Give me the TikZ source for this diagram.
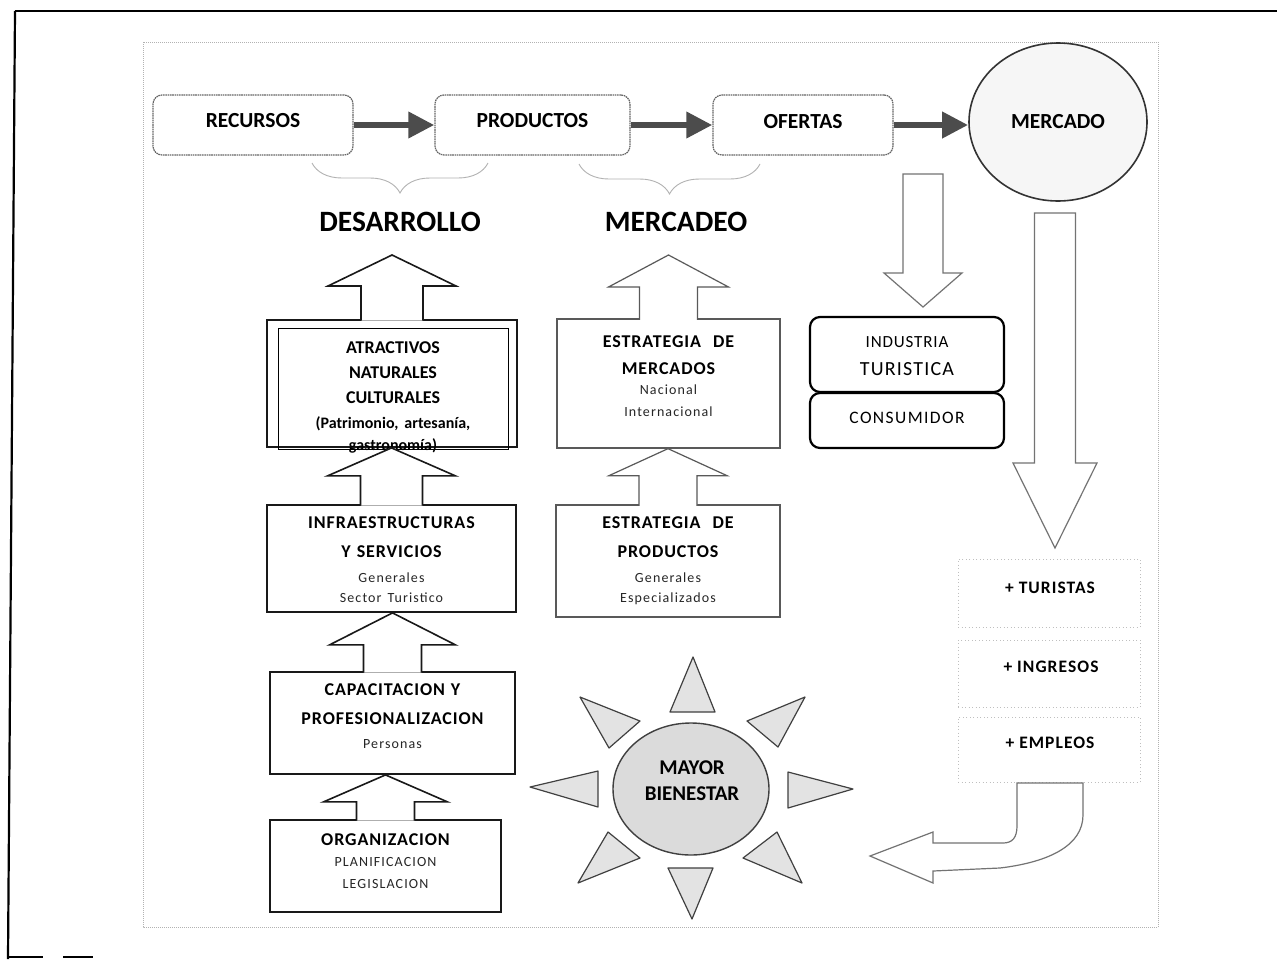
\documentclass[tikz,border=0pt]{standalone}
\usepackage{fontspec}
\setmainfont{Carlito}
\usetikzlibrary{arrows.meta,calc,decorations.pathreplacing,shapes.geometric}
\newcommand\fsz[2]{\fontsize{#1}{#2}\selectfont}
\newcommand\smalltxt{\fsz{14}{20}\mdseries\addfontfeature{LetterSpace=8}\color{black!85}}
% up block arrow: style, from node, tip coordinate, head height, head half width, shaft half width
\newcommand\blockup[6]{%
  \path[#1] let \p1=(#2.north), \p2=(#3) in
    (\x1-#6,\y1-1.5) -- (\x1-#6,\y2-#4) -- (\x1-#5,\y2-#4) -- (\x1,\y2)
    -- (\x1+#5,\y2-#4) -- (\x1+#6,\y2-#4) -- (\x1+#6,\y1-1.5);}
% down block arrow: style, top coordinate, tip coordinate, head height, head half width, shaft half width
\newcommand\blockdown[6]{%
  \path[#1] let \p1=(#2), \p2=(#3) in
    (\x2-#6,\y1) -- (\x2-#6,\y2+#4) -- (\x2-#5,\y2+#4) -- (\x2,\y2)
    -- (\x2+#5,\y2+#4) -- (\x2+#6,\y2+#4) -- (\x2+#6,\y1) -- cycle;}
\begin{document}
\begin{tikzpicture}[x=1pt,y=-1pt,
  topbox/.style={draw=black!60, line width=1.2pt, dash pattern=on 1.6pt off 0.7pt, rounded corners=9pt, minimum height=60pt, inner sep=0pt},
  toptxt/.style={inner sep=0pt, font=\fsz{21.5}{26}\bfseries},
  colbox/.style={draw=black!90, line width=1.8pt, inner sep=0pt},
  mktbox/.style={draw=black!65, line width=1.3pt, inner sep=0pt},
  indbox/.style={draw=black, line width=2.2pt, rounded corners=10pt, inner sep=0pt, minimum width=194pt},
  stackbox/.style={draw=gray!50, line width=0.8pt, dash pattern=on 1pt off 2.5pt, inner sep=0pt, minimum width=182pt},
  stacktxt/.style={inner sep=0pt, font=\fsz{17.5}{20}\bfseries\addfontfeature{LetterSpace=6}},
  btxt/.style={align=center, inner sep=0pt, text width=240pt},
  toparrow/.style={draw=black!70, line width=6.5pt, -{Triangle[length=26pt,width=25pt]}},
  leftarr/.style={draw=black!90, line width=1.6pt, fill=white, line join=miter},
  mktarr/.style={draw=black!65, line width=1.2pt, fill=white},
  bigarr/.style={draw=black!55, line width=1.2pt, fill=white},
  ray/.style={draw=black!75, line width=1.2pt, fill=gray!22, line join=round},
  bracestyle/.style={draw=gray!60, line width=0.9pt, decorate, decoration={brace, mirror, amplitude=30pt}},
]
\useasboundingbox (0,0) rectangle (1277,959);
\fill[white] (0,0) rectangle (1277,959);

% page frame
\draw[line width=2.5pt] (15,11) -- (1277,11);
\draw[line width=2.2pt] (15,11) -- (8,959);
\draw[line width=1.5pt] (7,957) -- (43,957) (63,957) -- (93,957);
% inner dotted frame
\draw[gray!60, line width=0.7pt, dash pattern=on 1pt off 1pt] (143,42) rectangle (1158,927);

% top row
\node[topbox, minimum width=200pt] (rec) at (253,125) {};
\node[toptxt] (recT) at (253,121) {RECURSOS};
\node[topbox, minimum width=195pt] (prod) at (532.5,125) {};
\node[toptxt] (prodT) at (532.5,121) {PRODUCTOS};
\node[topbox, minimum width=180pt] (ofe) at (803,125) {};
\node[toptxt] (ofeT) at (803,121.5) {OFERTAS};
\node[ellipse, draw=black!80, line width=1.6pt, fill=gray!7, minimum width=178pt, minimum height=158pt, inner sep=0pt] (merc) at (1058,122) {};
\node[toptxt] (mercT) at (1058,122) {MERCADO};

\draw[toparrow] (rec.east) -- (prod.west);
\draw[toparrow] (prod.east) -- (ofe.west);
\draw[toparrow] (ofe.east) -- (ofe.east -| merc.west);

% braces
\draw[bracestyle] (312,163) -- (488,163);
\draw[bracestyle] (579,164) -- (760,164);

\node[inner sep=0pt, font=\fsz{29.5}{34}\bfseries] (des) at (400,222) {DESARROLLO};
\node[inner sep=0pt, font=\fsz{29.5}{34}\bfseries] (mkt) at (676,222) {MERCADEO};

% left column
\node[colbox, minimum width=250pt, minimum height=127pt] (atr) at (392,383.5) {};
\draw[line width=1pt] (278,328) rectangle (508,449);
\node[btxt, font=\fsz{18}{25}\bfseries] (atrT) at (393,397.5)
  {ATRACTIVOS\\NATURALES\\CULTURALES\\{\fsz{16}{25}(Patrimonio, artesanía,\\[-3pt]gastronomía)}};

\node[colbox, minimum width=249pt, minimum height=107pt] (infra) at (391.5,558.5) {};
\node[btxt, font=\fsz{18}{20}\bfseries\addfontfeature{LetterSpace=5}] (infraT) at (391.5,560)
  {INFRAESTRUCTURAS\\[9pt]Y SERVICIOS\\[5pt]{\smalltxt Generales\\Sector Turistico}};

\node[colbox, minimum width=245pt, minimum height=102pt] (capac) at (392.5,723) {};
\node[btxt, font=\fsz{18}{24.2}\bfseries\addfontfeature{LetterSpace=5}] (capacT) at (392.5,716)
  {CAPACITACION Y\\[4.8pt]PROFESIONALIZACION\\{\smalltxt Personas}};

\node[colbox, minimum width=231pt, minimum height=92pt] (org) at (385.5,866) {};
\node[btxt, font=\fsz{18}{22}\bfseries\addfontfeature{LetterSpace=5}] (orgT) at (385.5,861)
  {ORGANIZACION\\[1.7pt]{\smalltxt PLANIFICACION\\LEGISLACION}};

% marketing column
\node[mktbox, minimum width=223pt, minimum height=129pt] (estm) at (668.5,383.5) {};
\node[btxt, font=\fsz{18}{22}\bfseries\addfontfeature{LetterSpace=5}] (estmT) at (668.5,376)
  {ESTRATEGIA\ \ DE\\[5pt]MERCADOS\\[0.7pt]{\smalltxt Nacional\\Internacional}};

\node[mktbox, minimum width=224pt, minimum height=112pt] (estp) at (668,561) {};
\node[btxt, font=\fsz{18}{20}\bfseries\addfontfeature{LetterSpace=5}] (estpT) at (668,561)
  {ESTRATEGIA\ \ DE\\[9pt]PRODUCTOS\\[5pt]{\smalltxt Generales\\Especializados}};

% up block arrows
\coordinate (desTip) at (392,255);
\coordinate (mkTip) at (668.5,255);
\blockup{leftarr}{atr}{desTip}{31}{64}{31}
\blockup{leftarr}{infra}{atr.south}{28}{64}{31}
\blockup{leftarr}{capac}{infra.south}{32}{63}{29}
\blockup{leftarr}{org}{capac.south}{27}{62}{29}
\blockup{mktarr}{estm}{mkTip}{32}{60}{29}
\blockup{mktarr}{estp}{estm.south}{27}{59}{29}

% industry / consumer
\node[indbox, minimum height=75pt] (ind) at (907,354.5) {};
\node[inner sep=0pt, align=center, text width=190pt, font=\fsz{17}{27.9}\addfontfeature{LetterSpace=5}] (indT) at (907,356)
  {INDUSTRIA\\{\fsz{20}{27.9}\addfontfeature{LetterSpace=6}TURISTICA}};
\node[indbox, minimum height=55pt] (cons) at (907,420.5) {};
\node[inner sep=0pt, font=\fsz{17.5}{20}\addfontfeature{LetterSpace=8}] (consT) at (907,418) {CONSUMIDOR};

% down block arrows
\coordinate (d1top) at (923,174);
\coordinate (d1tip) at (923,307);
\blockdown{bigarr}{d1top}{d1tip}{34}{39}{20}
\coordinate (d2top) at (1055.5,213);
\coordinate (d2tip) at (1055,548);
\blockdown{bigarr}{d2top}{d2tip}{85}{42}{20.5}

% results stack
\node[stackbox, minimum height=68pt] (tur) at (1049,593) {};
\node[stackbox, minimum height=67pt] (ing) at (1049,673.5) {};
\node[stackbox, minimum height=65pt] (emp) at (1049,749.5) {};
\node[stacktxt] (turT) at (1050,588) {+ TURISTAS};
\node[stacktxt] (ingT) at (1051,667) {+ INGRESOS};
\node[stacktxt] (empT) at (1050,743) {+ EMPLEOS};

% bent return arrow
\filldraw[bigarr] (1017,783) -- (1083,783) -- (1083,815)
  .. controls (1083,845) and (1050,862) .. (1000,868) -- (933,871) -- (933,883)
  -- (870,856) -- (933,832) -- (933,843) -- (1003,843)
  .. controls (1012,843) and (1017,838) .. (1017,826) -- cycle;

% sun
\filldraw[ray] (693,657) -- (670,712) -- (715,712) -- cycle;
\filldraw[ray] (692,919) -- (668,868) -- (713,868) -- cycle;
\filldraw[ray] (530,787) -- (598,771) -- (598,807) -- cycle;
\filldraw[ray] (853,789) -- (788,772) -- (788,808) -- cycle;
\filldraw[ray] (580,697) -- (609,748) -- (640,721) -- cycle;
\filldraw[ray] (805,697) -- (747,721) -- (778,747) -- cycle;
\filldraw[ray] (578,883) -- (608,832) -- (640,858) -- cycle;
\filldraw[ray] (802,883) -- (777,832) -- (743,858) -- cycle;
\node[ellipse, draw=black!75, line width=1.4pt, fill=gray!28, minimum width=156pt, minimum height=132pt, inner sep=0pt] (sun) at (691,789) {};
\node[inner sep=0pt, align=center, text width=150pt, font=\fsz{21}{26}\bfseries] (sunT) at (692,781) {MAYOR\\BIENESTAR};
\end{tikzpicture}
\end{document}
